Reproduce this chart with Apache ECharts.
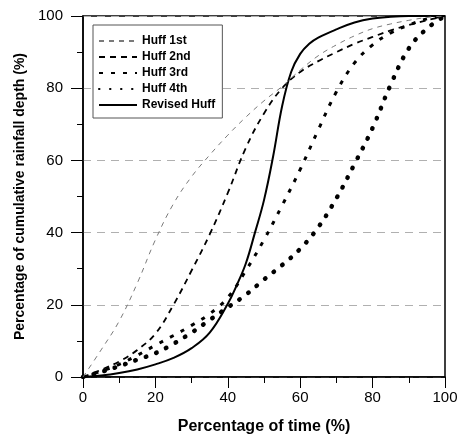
<!DOCTYPE html>
<html>
<head>
<meta charset="utf-8">
<script src="https://cdn.jsdelivr.net/npm/echarts@6/dist/echarts.min.js"></script>
<style>
    html, body {margin: 0; padding: 0; background: #fff;}
    #chart {width: 463px; height: 437px;}
</style>
</head>
<body>
<div id="chart"></div>
<script>
// 累积曲线 (时间%, 降雨%)
let timeX = [0, 5, 10, 15, 20, 25, 30, 35, 40, 45, 50, 55, 60, 65, 70, 75, 80, 85, 90, 95, 100];
let huff1Y = [0, 7.5, 15.5, 26, 38, 48, 55.5, 61.5, 67, 72, 76.5, 80.5, 85, 89, 92, 94.5, 96.5, 97.8, 98.8, 99.6, 100];
let huff2Y = [0, 2, 4.3, 7.5, 12, 20, 29.5, 39.5, 51, 63.5, 73, 80, 84.5, 87.5, 90, 92.3, 94.2, 96, 97.5, 98.8, 100];
let huff3Y = [0, 1.6, 3.5, 6, 8.8, 11.5, 14.3, 17.5, 22, 29.5, 38, 47.5, 57.5, 68.5, 79, 87, 92, 95.3, 97.5, 99.2, 100];
let huff4Y = [0, 1.4, 3, 4.8, 6.6, 9.2, 12.3, 15.8, 19.3, 22.8, 27, 31, 35.5, 41.5, 49.5, 59, 69, 81, 91, 96.5, 100];
let revX = [0, 5, 10, 15, 20, 25, 30, 35, 40, 42.5, 45, 47.5, 50, 52.5, 55, 57.5, 60, 62.5, 65, 70, 75, 80, 85, 90, 100];
let revY = [0, 0.4, 1.1, 2.1, 3.5, 5.3, 8, 12.3, 20.3, 25.5, 31.5, 40, 49, 61, 75, 84.5, 89.5, 92.3, 94, 96.3, 98.2, 99.3, 99.8, 100, 100];
let names = ['Huff 1st', 'Huff 2nd', 'Huff 3rd', 'Huff 4th', 'Revised Huff'];
let ticks = [0, 20, 40, 60, 80, 100];

function pairs(xs, ys) {
    return xs.map(function (x, i) {
        return [x, ys[i]];
    });
}

let font = 'Arial, "Liberation Sans", sans-serif';
let styles = [
    {color: '#7a7a7a', width: 1, type: [5, 5]},
    {color: '#000', width: 1.8, type: [6, 5]},
    {color: '#000', width: 3, type: [4, 8]},
    {color: '#000', width: 4.5, type: [0.5, 10.5], cap: 'round'},
    {color: '#000', width: 2, type: 'solid'}
];
let data = [pairs(timeX, huff1Y), pairs(timeX, huff2Y), pairs(timeX, huff3Y), pairs(timeX, huff4Y), pairs(revX, revY)];

let chart = echarts.init(document.getElementById('chart'));
chart.setOption({
    animation: false,
    grid: {
        left: 83, right: 18, top: 16, bottom: 60, show: true, borderColor: '#000', borderWidth: 1.5,
        containLabel: false, outerBoundsMode: 'none'
    },
    legend: {
        data: names, orient: 'vertical', left: 93, top: 25,
        itemWidth: 38, itemHeight: 12, itemGap: 4,
        padding: [10, 7, 7, 5],
        borderColor: '#555', borderWidth: 1, backgroundColor: '#fff',
        itemStyle: {opacity: 0},
        textStyle: {fontFamily: font, fontSize: 12, fontWeight: 'bold', color: '#000'}
    },
    xAxis: {
        type: 'value', min: ticks[0], max: ticks[ticks.length - 1], interval: 20,
        name: 'Percentage of time (%)', nameLocation: 'middle', nameGap: 42,
        nameTextStyle: {fontFamily: font, fontSize: 16, fontWeight: 'bold', color: '#000'},
        axisLine: {lineStyle: {color: '#000', width: 1.5}},
        axisTick: {show: true, length: 11, lineStyle: {color: '#000', width: 1}},
        minorTick: {show: true, splitNumber: 2, length: 6, lineStyle: {color: '#000', width: 1}},
        axisLabel: {fontFamily: font, fontSize: 15, color: '#000', margin: 13},
        splitLine: {show: false}
    },
    yAxis: {
        type: 'value', min: ticks[0], max: ticks[ticks.length - 1], interval: 20,
        name: 'Percentage of cumulative rainfall depth (%)', nameLocation: 'middle', nameGap: 44,
        nameTextStyle: {fontFamily: font, fontSize: 14, fontWeight: 'bold', color: '#000'},
        axisLine: {lineStyle: {color: '#000', width: 1.5}},
        axisTick: {show: true, length: 12, lineStyle: {color: '#000', width: 1}},
        minorTick: {show: true, splitNumber: 2, length: 6, lineStyle: {color: '#000', width: 1}},
        axisLabel: {fontFamily: font, fontSize: 15, color: '#000', margin: 20},
        splitLine: {show: true, lineStyle: {color: '#b0b0b0', width: 1, type: [8, 6]}}
    },
    series: names.map(function (n, i) {
        let s = styles[i];
        return {
            name: n, type: 'line', data: data[i], symbol: 'none',
            smooth: 0.4, z: 10 - i,
            lineStyle: {color: s.color, width: s.width, type: s.type, cap: s.cap || 'butt'},
            itemStyle: {color: s.color}
        };
    })
});
</script>
</body>
</html>
